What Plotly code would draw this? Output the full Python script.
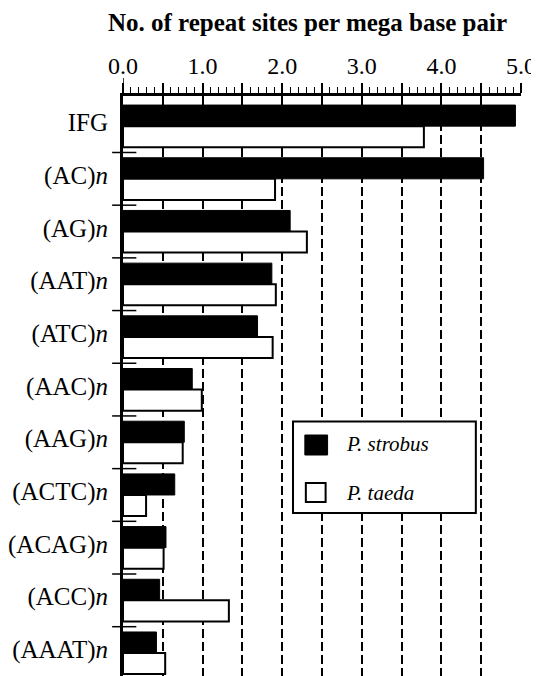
import plotly.graph_objects as go

categories = ["IFG", "(AC)<i>n</i>", "(AG)<i>n</i>", "(AAT)<i>n</i>", "(ATC)<i>n</i>",
              "(AAC)<i>n</i>", "(AAG)<i>n</i>", "(ACTC)<i>n</i>", "(ACAG)<i>n</i>",
              "(ACC)<i>n</i>", "(AAAT)<i>n</i>"]
strobus = [4.93, 4.53, 2.10, 1.87, 1.69, 0.87, 0.77, 0.65, 0.54, 0.46, 0.42]
taeda = [3.78, 1.91, 2.31, 1.92, 1.88, 0.99, 0.75, 0.29, 0.51, 1.33, 0.53]
series_names = ["P. strobus", "P. taeda"]
x_tickvals = [0, 0.5, 1.0, 1.5, 2.0, 2.5, 3.0, 3.5, 4.0, 4.5, 5.0]
x_ticktext = ["0.0", "", "1.0", "", "2.0", "", "3.0", "", "4.0", "", "5.0"]
title_text = "No. of repeat sites per mega base pair"

FONT = "Liberation Serif"
OFF = 8  # page body margin offset
W, H = 539 - OFF, 676 - OFF
# plot area in page pixels
PL, PR, PT, PB = 118, 520.7, 96, 676
L, R, T, B = PL - OFF, (W + OFF) - PR, PT - OFF, 0
PW, PH = PR - PL, PB - PT

def px(xp):
    return (xp - PL) / PW

def py(yp):
    return 1 - (yp - PT) / PH

n = len(categories)
pos = list(range(n))
step = 52.69
y_top = -0.5 - (99.8 - PT) / step
y_bot = y_top + PH / step

fig = go.Figure()
fig.add_trace(go.Bar(y=pos, x=strobus, orientation="h", name=series_names[0],
                     marker=dict(color="black", line=dict(color="black", width=1))))
fig.add_trace(go.Bar(y=pos, x=taeda, orientation="h", name=series_names[1],
                     marker=dict(color="white", line=dict(color="black", width=2))))

shapes = []
# category separators crossing the left axis
for i in range(n - 1):
    shapes.append(dict(type="line", xref="paper", yref="y", x0=px(107), x1=px(131.5),
                       y0=i + 0.5, y1=i + 0.5, line=dict(color="black", width=1.5)))
# left axis extension above the top axis (tall tick at 0.0)
shapes.append(dict(type="line", xref="x", yref="paper", x0=0, x1=0, y0=1, y1=py(78),
                   line=dict(color="black", width=1.5)))
# legend box
shapes.append(dict(type="rect", xref="paper", yref="paper", x0=px(290), x1=px(475),
                   y0=py(513), y1=py(421.5), line=dict(color="black", width=2),
                   fillcolor="white", layer="above"))
shapes.append(dict(type="rect", xref="paper", yref="paper", x0=px(302), x1=px(325),
                   y0=py(455), y1=py(435), line=dict(color="black", width=1),
                   fillcolor="black", layer="above"))
shapes.append(dict(type="rect", xref="paper", yref="paper", x0=px(303), x1=px(323),
                   y0=py(502), y1=py(483), line=dict(color="black", width=2),
                   fillcolor="white", layer="above"))

annotations = [
    dict(text="<i>" + series_names[0] + "</i>", xref="paper", yref="paper", x=px(342), y=py(444),
         xanchor="left", yanchor="middle", showarrow=False,
         font=dict(family=FONT, size=21, color="black")),
    dict(text="<i>" + series_names[1] + "</i>", xref="paper", yref="paper", x=px(342), y=py(493),
         xanchor="left", yanchor="middle", showarrow=False,
         font=dict(family=FONT, size=21, color="black")),
]

fig.update_layout(
    width=W, height=H,
    margin=dict(l=L, r=R, t=T, b=B, pad=0),
    paper_bgcolor="white", plot_bgcolor="white",
    barmode="group", bargap=0.2, bargroupgap=0,
    showlegend=False,
    shapes=shapes, annotations=annotations,
    title=dict(text="<b>" + title_text + "</b>", x=(307.5 - OFF) / W, xref="container",
               xanchor="center", y=1 - (22.5 - OFF) / H, yref="container", yanchor="middle",
               font=dict(family=FONT, size=25, color="black")),
    font=dict(family=FONT, color="black"),
)

fig.update_xaxes(side="top", range=[0, 5.0], tickvals=x_tickvals, ticktext=x_ticktext,
                 showline=True, linecolor="black", linewidth=2.5,
                 ticks="outside", ticklen=10, tickwidth=1.5, tickcolor="black",
                 minor=dict(dtick=0.1, ticks="outside", ticklen=6, tickwidth=1.2,
                            tickcolor="black", showgrid=False),
                 showgrid=True, gridcolor="black", gridwidth=1.5, griddash="9px,4px",
                 zeroline=False, tickfont=dict(family=FONT, size=24, color="black"))
fig.update_yaxes(range=[y_bot, y_top],
                 tickvals=[p - 0.07 for p in pos], ticktext=categories,
                 showline=True, linecolor="black", linewidth=3, ticks="",
                 showgrid=False, zeroline=False, ticklabelstandoff=7,
                 tickfont=dict(family=FONT, size=25, color="black"))

fig.write_html("out.html")
